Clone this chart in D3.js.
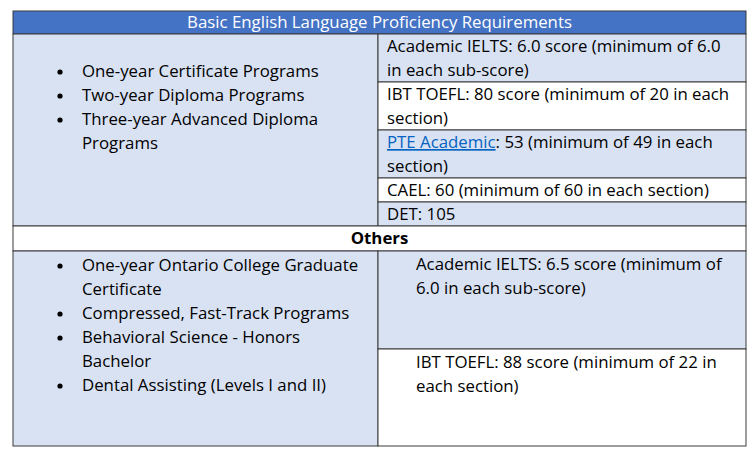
<!DOCTYPE html>
<html><head><meta charset="utf-8">
<script src="https://cdn.jsdelivr.net/npm/d3@7"></script>
<style>body{margin:0;background:#fff}</style>
</head><body><div id="viz"></div>
<script>
const title = 'Basic English Language Proficiency Requirements';
const basicPrograms = [['One-year Certificate Programs'], ['Two-year Diploma Programs'], ['Three-year Advanced Diploma', 'Programs']];
const basicTests = [
  ['Academic IELTS: 6.0 score (minimum of 6.0', 'in each sub-score)'],
  ['IBT TOEFL: 80 score (minimum of 20 in each', 'section)'],
  ['PTE Academic: 53 (minimum of 49 in each', 'section)'],
  ['CAEL: 60 (minimum of 60 in each section)'],
  ['DET: 105']
];
const basicFills = ['#D9E2F3', '#fff', '#D9E2F3', '#fff', '#D9E2F3'];
const othersTitle = 'Others';
const otherPrograms = [['One-year Ontario College Graduate', 'Certificate'], ['Compressed, Fast-Track Programs'], ['Behavioral Science - Honors', 'Bachelor'], ['Dental Assisting (Levels I and II)']];
const otherTests = [['Academic IELTS: 6.5 score (minimum of', '6.0 in each sub-score)'], ['IBT TOEFL: 88 score (minimum of 22 in', 'each section)']];
const otherFills = ['#D9E2F3', '#fff'];

const width = 750, height = 457;
const x0 = 13, xm = 378, x1 = 746;
const lineH = 24, font = "'Open Sans', sans-serif";

const svg = d3.select('#viz').append('svg').attr('width', width).attr('height', height)
  .style('font-family', font).style('font-size', '16px');

// fit font size so the title spans ~385px like the reference
const probe = svg.append('text').text(title);
const fs = 16 * 385 / probe.node().getComputedTextLength();
probe.remove();
svg.style('font-size', fs + 'px');

function cell(x, y, w, h, fill) {
  svg.append('rect').attr('x', x).attr('y', y).attr('width', w).attr('height', h)
    .attr('fill', fill).attr('stroke', '#3a3a3a').attr('stroke-width', 1);
}

// header
cell(x0, 11, x1 - x0, 23, '#4472C4');
svg.append('text').attr('x', (x0 + x1) / 2).attr('y', 28).attr('text-anchor', 'middle')
  .attr('fill', '#fff').text(title);

// basic section rows
const rowH = basicTests.map(d => d.length * lineH);
const rowY = d3.cumsum([34].concat(rowH));
cell(x0, 34, xm - x0, rowY[rowH.length] - 34, '#D9E2F3');
basicTests.forEach((lines, i) => {
  cell(xm, rowY[i], x1 - xm, rowH[i], basicFills[i]);
  lines.forEach((t, j) => {
    const tx = svg.append('text').attr('x', 387).attr('y', rowY[i] + 18 + j * lineH).attr('fill', '#000');
    if (t.startsWith('PTE Academic')) {
      tx.append('tspan').attr('fill', '#0563C1').attr('text-decoration', 'underline').text('PTE Academic');
      tx.append('tspan').text(t.slice(12));
    } else tx.text(t);
  });
});

function bullets(list, yStart) {
  let k = 0;
  list.forEach(lines => {
    svg.append('circle').attr('cx', 60).attr('cy', yStart + k * lineH - 5).attr('r', 2.6).attr('fill', '#000');
    lines.forEach(t => {
      svg.append('text').attr('x', 82).attr('y', yStart + k * lineH).text(t);
      k++;
    });
  });
}
bullets(basicPrograms, 77);

// others row
const oy = rowY[rowH.length];
cell(x0, oy, x1 - x0, 25, '#fff');
svg.append('text').attr('x', (x0 + x1) / 2).attr('y', oy + 18).attr('text-anchor', 'middle')
  .attr('font-weight', 'bold').text(othersTitle);

const by = oy + 25, bottom = 446, split = 349;
cell(x0, by, xm - x0, bottom - by, '#D9E2F3');
const oys = [by, split, bottom];
otherTests.forEach((lines, i) => {
  cell(xm, oys[i], x1 - xm, oys[i + 1] - oys[i], otherFills[i]);
  lines.forEach((t, j) => {
    svg.append('text').attr('x', 416).attr('y', oys[i] + 19 + j * lineH).text(t);
  });
});
bullets(otherPrograms, 271);
</script></body></html>
